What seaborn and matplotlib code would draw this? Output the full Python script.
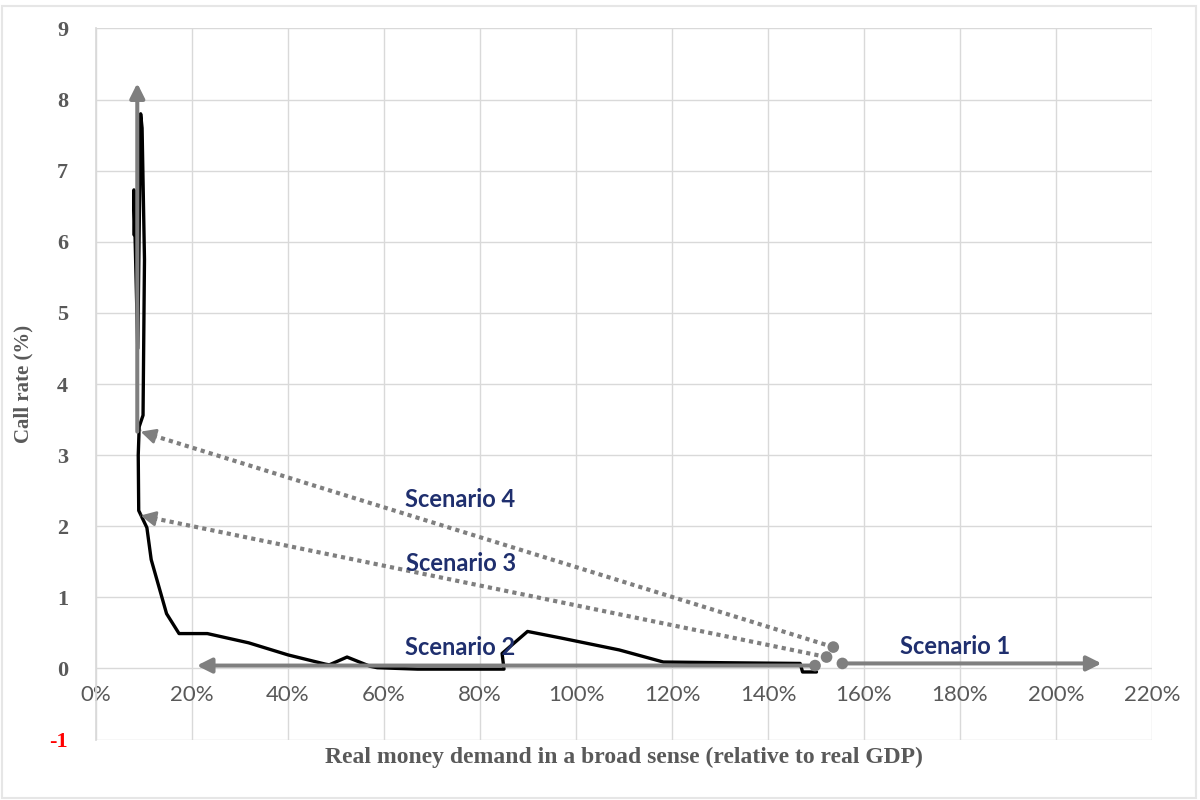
import matplotlib
matplotlib.use("Agg")
import matplotlib.pyplot as plt
import matplotlib.patches as mpatches
import numpy as np
import pandas as pd
import seaborn as sns

# ---------------- data ----------------
money_demand = [7.9, 7.9, 8.7, 9.3, 9.6, 10.1, 9.8, 9.0, 8.8, 8.9, 10.6, 11.5, 14.7, 17.3,
                23.2, 31.8, 40.0, 47.8, 48.6, 52.3, 57.1, 58.6, 67.0, 85.0, 84.6, 89.9,
                96.7, 109.0, 118.2, 131.0, 146.7, 147.2, 150.1]
call_rate = [6.10, 6.73, 4.50, 7.80, 7.60, 5.75, 3.56, 3.40, 3.00, 2.22, 1.98, 1.53, 0.77, 0.49,
             0.49, 0.36, 0.19, 0.06, 0.05, 0.16, 0.03, 0.01, -0.01, -0.01, 0.21, 0.52,
             0.43, 0.26, 0.09, 0.08, 0.07, -0.05, -0.05]

point_x = [149.8, 152.2, 153.6, 155.5]
point_y = [0.04, 0.16, 0.30, 0.07]

arrow_names = ["Scenario 1", "Scenario 2", "Scenario 3", "Scenario 4", "vertical"]
arrow_x0 = [155.5, 149.8, 152.2, 153.6, 8.6]
arrow_y0 = [0.07, 0.04, 0.16, 0.30, 3.33]
arrow_x1 = [209.5, 21.0, 9.3, 9.3, 8.6]
arrow_y1 = [0.07, 0.04, 2.15, 3.33, 8.23]
arrow_dotted = [False, False, True, True, False]

label_text = ["Scenario 1", "Scenario 2", "Scenario 3", "Scenario 4"]
label_x = [179.0, 75.8, 76.0, 75.8]
label_y = [0.31, 0.30, 1.48, 2.38]

x_ticks = list(range(0, 221, 20))
x_tick_labels = [f"{v}%" for v in x_ticks]
y_ticks = list(range(-1, 10))
y_tick_labels = [str(v) for v in y_ticks]

# ---------------- style ----------------
sns.set_theme(style="white")
plt.rcParams["font.family"] = ["Liberation Serif", "DejaVu Serif"]

GRAY_TXT = "#595959"
GRID = "#D9D9D9"
ARROW = "#7F7F7F"
NAVY = "#1F2F6E"

fig = plt.figure(figsize=(12, 8), dpi=100)
ax = fig.add_axes([0.08, 0.0756, 0.88, 0.8888])

# outer chart frame
fig.patches.append(mpatches.Rectangle((0.002, 0.003), 0.995, 0.990, transform=fig.transFigure,
                                      fill=False, edgecolor="#E6E6E6", linewidth=1.5))

line_df = pd.DataFrame({"money": money_demand, "rate": call_rate})
sns.lineplot(data=line_df, x="money", y="rate", sort=False, estimator=None,
             color="black", linewidth=2.4, ax=ax, zorder=3)

# arrows
HEAD = 22
for x0, y0, x1, y1, dotted in zip(arrow_x0, arrow_y0, arrow_x1, arrow_y1, arrow_dotted):
    if dotted:
        seg = pd.DataFrame({"x": [x0, x1], "y": [y0, y1]})
        sns.lineplot(data=seg, x="x", y="y", sort=False, estimator=None, color=ARROW,
                     linewidth=3.0, linestyle=(0, (1, 1)), ax=ax, zorder=4)
        hx = x1 + 0.015 * (x0 - x1)
        hy = y1 + 0.015 * (y0 - y1)
        ax.annotate("", xy=(x1, y1), xytext=(hx, hy),
                    arrowprops=dict(arrowstyle="-|>", color=ARROW, lw=2.0,
                                    mutation_scale=HEAD, shrinkA=0, shrinkB=0),
                    zorder=4)
    else:
        ax.annotate("", xy=(x1, y1), xytext=(x0, y0),
                    arrowprops=dict(arrowstyle="-|>", color=ARROW, lw=2.9,
                                    mutation_scale=HEAD, shrinkA=0, shrinkB=0),
                    zorder=4)

pts_df = pd.DataFrame({"x": point_x, "y": point_y})
sns.scatterplot(data=pts_df, x="x", y="y", color=ARROW, s=70, edgecolor="none",
                ax=ax, zorder=5)

for t, lx, ly in zip(label_text, label_x, label_y):
    ax.text(lx, ly, t, color=NAVY, fontsize=17, fontweight="bold",
            family=["Lato", "DejaVu Sans"], ha="center", va="center", zorder=6)

# axes
ax.set_xlim(0, 220)
ax.set_ylim(-1, 9)
ax.spines["bottom"].set_position(("data", 0))
ax.spines["bottom"].set_visible(False)
ax.spines["top"].set_visible(False)
ax.spines["right"].set_visible(False)
ax.spines["left"].set_color(GRID)

ax.set_xticks(x_ticks)
ax.set_xticklabels(x_tick_labels, family=["Lato", "DejaVu Sans"], fontsize=16, color=GRAY_TXT)
ax.set_yticks(y_ticks)
ax.set_yticklabels(y_tick_labels, fontsize=16, fontweight="bold", color=GRAY_TXT)
ax.get_yticklabels()[0].set_color("red")
ax.grid(True, color=GRID, linewidth=1.0)
ax.set_axisbelow(True)

ax.tick_params(axis="x", length=0, pad=12)
ax.tick_params(axis="y", length=0, pad=20)

ax.set_xlabel("Real money demand in a broad sense (relative to real GDP)",
              fontsize=17, fontweight="bold", color=GRAY_TXT)
ax.xaxis.set_label_coords(0.5, -0.01)
ax.set_ylabel("Call rate (%)", fontsize=15, fontweight="bold", color=GRAY_TXT)
ax.yaxis.set_label_coords(-0.059, 0.5)

fig.savefig("out.png", dpi=100)
